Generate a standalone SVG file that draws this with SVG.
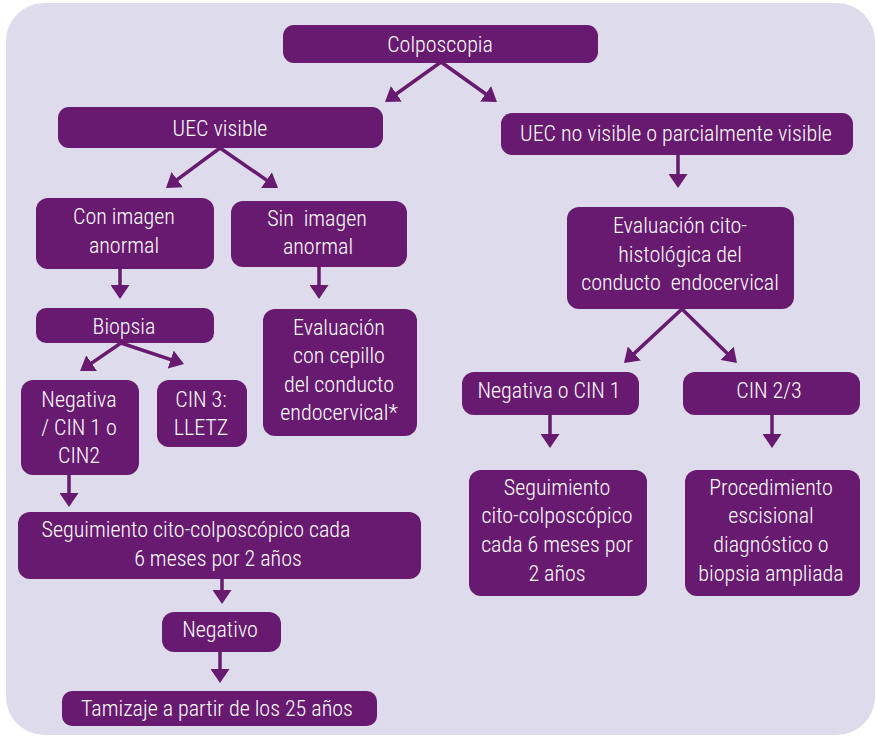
<svg xmlns="http://www.w3.org/2000/svg" width="877" height="737" viewBox="0 0 877 737">
  <style>
    .box { fill: #681a70; }
    .lbl { fill: #ffffff; font-family: "Liberation Sans Narrow", "Roboto Condensed", "Liberation Sans", sans-serif; font-size: 22px; font-weight: 300; text-anchor: middle; }
    .link { fill: none; stroke: #681a70; stroke-width: 3.5; marker-end: url(#head); }
  </style>
  <defs>
    <marker id="head" viewBox="0 0 14 19" refX="8" refY="9.5" markerWidth="14" markerHeight="19" markerUnits="userSpaceOnUse" orient="auto">
      <path d="M0,0 L14,9.5 L0,19 z" fill="#681a70"/>
    </marker>
  </defs>

  <rect x="0" y="0" width="877" height="737" fill="#ffffff"/>
  <rect id="panel" x="6" y="3" width="869" height="732" rx="38" ry="38" fill="#dedcec"/>

  <g id="connectors">
    <path class="link" d="M441,62 L389.9,98.5"/>
    <path class="link" d="M441,62 L492.1,98.5"/>
    <path class="link" d="M220,148 L170.8,184.4"/>
    <path class="link" d="M220,148 L273.1,184.6"/>
    <path class="link" d="M678,155 L678,182"/>
    <path class="link" d="M120,269 L120,293"/>
    <path class="link" d="M319,267 L319,293"/>
    <path class="link" d="M121,343 L85,367.6"/>
    <path class="link" d="M121,343 L178.3,362.1"/>
    <path class="link" d="M682,309 L628.4,358.9"/>
    <path class="link" d="M682,309 L732.7,358.8"/>
    <path class="link" d="M550,415 L550,442"/>
    <path class="link" d="M772,415 L772,442"/>
    <path class="link" d="M69,475 L69,501"/>
    <path class="link" d="M222,579 L222,598"/>
    <path class="link" d="M220,652 L220,677"/>
  </g>

  <g id="colposcopia">
    <rect class="box" x="283" y="25" width="315" height="38" rx="11"/>
    <text class="lbl" x="440" y="52">Colposcopia</text>
  </g>

  <g id="uec-visible">
    <rect class="box" x="58" y="107" width="325" height="41" rx="11"/>
    <text class="lbl" x="220" y="136">UEC visible</text>
  </g>

  <g id="uec-no-visible">
    <rect class="box" x="501" y="113" width="352" height="42" rx="11"/>
    <text class="lbl" x="676" y="141">UEC no visible o parcialmente visible</text>
  </g>

  <g id="con-imagen">
    <rect class="box" x="36" y="198" width="178" height="71" rx="12"/>
    <text class="lbl" x="124" y="224">Con imagen</text>
    <text class="lbl" x="124" y="253">anormal</text>
  </g>

  <g id="sin-imagen">
    <rect class="box" x="231" y="201" width="176" height="66" rx="12"/>
    <text class="lbl" x="317" y="226" xml:space="preserve">Sin  imagen</text>
    <text class="lbl" x="318" y="254">anormal</text>
  </g>

  <g id="biopsia">
    <rect class="box" x="36" y="308" width="178" height="35" rx="10"/>
    <text class="lbl" x="124" y="334">Biopsia</text>
  </g>

  <g id="evaluacion-cepillo">
    <rect class="box" x="263" y="309" width="154" height="127" rx="12"/>
    <text class="lbl" x="339" y="335">Evaluación</text>
    <text class="lbl" x="339" y="363">con cepillo</text>
    <text class="lbl" x="339" y="392">del conducto</text>
    <text class="lbl" x="339" y="420">endocervical*</text>
  </g>

  <g id="negativa-cin1-cin2">
    <rect class="box" x="21" y="380" width="118" height="95" rx="12"/>
    <text class="lbl" x="79" y="407">Negativa</text>
    <text class="lbl" x="79" y="435">/ CIN 1 o</text>
    <text class="lbl" x="79" y="463">CIN2</text>
  </g>

  <g id="cin3-lletz">
    <rect class="box" x="157" y="380" width="90" height="67" rx="12"/>
    <text class="lbl" x="201" y="407">CIN 3:</text>
    <text class="lbl" x="201" y="435">LLETZ</text>
  </g>

  <g id="evaluacion-cito-histologica">
    <rect class="box" x="567" y="207" width="227" height="102" rx="12"/>
    <text class="lbl" x="680" y="233">Evaluación cito-</text>
    <text class="lbl" x="680" y="262">histológica del</text>
    <text class="lbl" x="680" y="290" xml:space="preserve">conducto  endocervical</text>
  </g>

  <g id="negativa-cin1">
    <rect class="box" x="462" y="372" width="177" height="43" rx="12"/>
    <text class="lbl" x="549" y="398">Negativa o CIN 1</text>
  </g>

  <g id="cin23">
    <rect class="box" x="683" y="372" width="177" height="43" rx="12"/>
    <text class="lbl" x="769" y="398">CIN 2/3</text>
  </g>

  <g id="seguimiento-derecha">
    <rect class="box" x="469" y="470" width="178" height="126" rx="12"/>
    <text class="lbl" x="557" y="495">Seguimiento</text>
    <text class="lbl" x="557" y="523">cito-colposcópico</text>
    <text class="lbl" x="557" y="552">cada 6 meses por</text>
    <text class="lbl" x="557" y="581">2 años</text>
  </g>

  <g id="procedimiento">
    <rect class="box" x="685" y="470" width="175" height="126" rx="12"/>
    <text class="lbl" x="771" y="495">Procedimiento</text>
    <text class="lbl" x="771" y="523">escisional</text>
    <text class="lbl" x="771" y="552">diagnóstico o</text>
    <text class="lbl" x="771" y="581">biopsia ampliada</text>
  </g>

  <g id="seguimiento-izquierda">
    <rect class="box" x="18" y="512" width="403" height="67" rx="12"/>
    <text class="lbl" x="196" y="537">Seguimiento cito-colposcópico cada</text>
    <text class="lbl" x="218" y="566">6 meses por 2 años</text>
  </g>

  <g id="negativo">
    <rect class="box" x="162" y="612" width="119" height="40" rx="12"/>
    <text class="lbl" x="220" y="637">Negativo</text>
  </g>

  <g id="tamizaje">
    <rect class="box" x="62" y="691" width="315" height="35" rx="10"/>
    <text class="lbl" x="217" y="716">Tamizaje a partir de los 25 años</text>
  </g>
</svg>
